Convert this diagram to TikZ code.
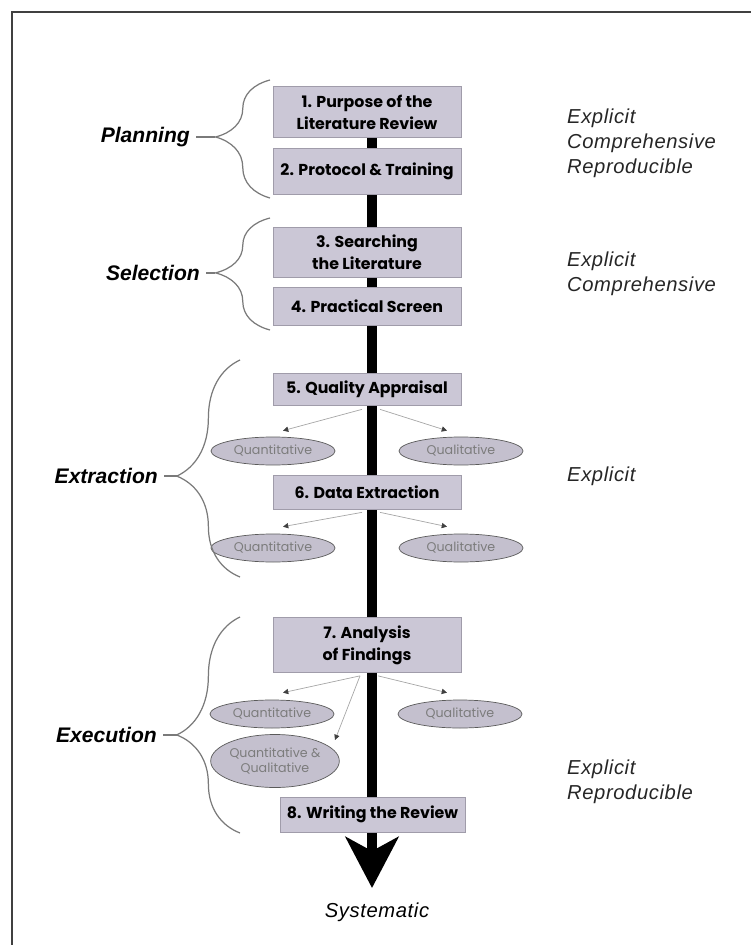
\documentclass[tikz,border=0pt]{standalone}
\usepackage{fontspec}
\setmainfont{Liberation Sans}
\newfontfamily\gothic{Poppins}
\newfontfamily\spaced{Liberation Sans}[LetterSpace=3]
\usetikzlibrary{shapes.geometric,arrows.meta,decorations.pathreplacing,calc,backgrounds}

\definecolor{boxfill}{HTML}{CBC7D6}
\definecolor{boxline}{HTML}{A09CAA}
\definecolor{ovalfill}{HTML}{C4C0CE}
\definecolor{ovalline}{HTML}{5A5A5A}
\definecolor{ovaltext}{HTML}{7C7C7C}
\definecolor{bracegray}{HTML}{7A7A7A}

\tikzset{
  stage/.style={draw=boxline, fill=boxfill, minimum width=3.76cm, inner sep=0pt, align=center,
    font=\gothic\bfseries\fontsize{9}{12.5}\selectfont},
  kind/.style={ellipse, draw=ovalline, fill=ovalfill, minimum width=2.48cm, minimum height=0.56cm,
    inner sep=0pt, align=center, text=ovaltext, font=\gothic\fontsize{7.2}{9}\selectfont},
  fork/.style={draw=gray!70, line width=0.4pt, -{Triangle[length=3pt,width=3pt,color=black!75]}},
  spine/.style={line width=6.2pt, -{Stealth[length=29pt,width=30pt,inset=8pt]}},
  curly/.style={draw=bracegray, line width=0.7pt, decorate, decoration={brace, amplitude=31pt, aspect=0.5}},
  phase/.style={anchor=east, font=\bfseries\itshape\fontsize{12}{14}\selectfont},
  quality/.style={anchor=west, align=left, text=black!85, font=\spaced\itshape\fontsize{11.5}{14.2}\selectfont}
}

\begin{document}
\begin{tikzpicture}[x=0.02cm, y=-0.02cm]
\useasboundingbox (0,0) rectangle (751,945);
\draw[line width=1.1pt, black!75] (12,945) -- (12,12) -- (751,12);

\node[stage, minimum height=1.02cm] (Purpose) at (367,112) {1. Purpose of the\\Literature Review};
\node[stage, minimum height=0.92cm] (Protocol) at (367,171) {2. Protocol \& Training};
\node[stage, minimum height=1.0cm] (Searching) at (367,252) {3. Searching\\the Literature};
\node[stage, minimum height=0.76cm] (Screen) at (367,306) {4. Practical Screen};
\node[stage, minimum height=0.64cm] (Appraisal) at (367,389) {5. Quality Appraisal};
\node[stage, minimum height=0.68cm] (DataExtraction) at (367,492) {6. Data Extraction};
\node[stage, minimum height=1.1cm] (Analysis) at (367,645) {7. Analysis\\of Findings};
\node[stage, minimum width=3.7cm, minimum height=0.7cm] (Writing) at (372.5,814.5) {8. Writing the Review};

\node[kind] (QuantA) at (273,451) {Quantitative};
\node[kind] (QualA) at (461,451) {Qualitative};
\node[kind] (QuantB) at (273,548) {Quantitative};
\node[kind] (QualB) at (461,548) {Qualitative};
\node[kind] (QuantC) at (272,714) {Quantitative};
\node[kind] (QualC) at (460,714) {Qualitative};
\node[kind, minimum width=2.5cm, minimum height=1.06cm] (Mixed) at (275,761) {Quantitative \&\\Qualitative};

\coordinate (Tip) at (372,888);
\begin{pgfonlayer}{background}
  \draw[spine] (Purpose.south -| Tip) -- (Tip);
\end{pgfonlayer}
\node[font=\spaced\itshape\fontsize{11.5}{14}\selectfont] (Systematic) at (377,912) {Systematic};

\draw[fork] ($(Appraisal.south)+(-5,4)$) -- ($(QuantA.north)+(10,-6)$);
\draw[fork] ($(Appraisal.south)+(13,4)$) -- ($(QualA.north)+(-14,-6)$);
\draw[fork] ($(DataExtraction.south)+(-5,3)$) -- ($(QuantB.north)+(10,-7)$);
\draw[fork] ($(DataExtraction.south)+(13,3)$) -- ($(QualB.north)+(-14,-7)$);
\draw[fork] ($(Analysis.south)+(-7,3)$) -- ($(QuantC.north)+(11,-7)$);
\draw[fork] ($(Analysis.south)+(11,3)$) -- ($(QualC.north)+(-13,-7)$);
\draw[fork] ($(Analysis.south)+(-7,3)$) -- ($(Mixed.center)+(60,-21)$);

\draw[curly, decoration={aspect=0.517}] (270,198) -- (270,80);
\draw[curly, decoration={aspect=0.51}] (270,330) -- (270,218);
\draw[curly, decoration={amplitude=36pt, aspect=0.465}] (240,577) -- (240,360);
\draw[curly, decoration={amplitude=36pt, aspect=0.454}] (240,833) -- (240,617);
\coordinate (PlanTip) at (215,137);
\coordinate (SelectTip) at (215,273);
\coordinate (ExtractTip) at (177,476);
\coordinate (ExecTip) at (177,735);

\node[phase] (Planning) at (196,137) {Planning};
\node[phase] (Selection) at (206,273) {Selection};
\node[phase] (Extraction) at (164,476) {Extraction};
\node[phase] (Execution) at (163,735) {Execution};
\draw[bracegray, line width=0.7pt] (Planning) -- (PlanTip);
\draw[bracegray, line width=0.7pt] (Selection) -- (SelectTip);
\draw[bracegray, line width=0.7pt] (Extraction) -- (ExtractTip);
\draw[bracegray, line width=0.7pt] (Execution) -- (ExecTip);

\node[quality] (QualityA) at (561,143) {Explicit\\Comprehensive\\Reproducible};
\node[quality] (QualityB) at (561,273.5) {Explicit\\Comprehensive};
\node[quality] (QualityC) at (561,476) {Explicit};
\node[quality] (QualityD) at (561,782) {Explicit\\Reproducible};
\end{tikzpicture}
\end{document}
